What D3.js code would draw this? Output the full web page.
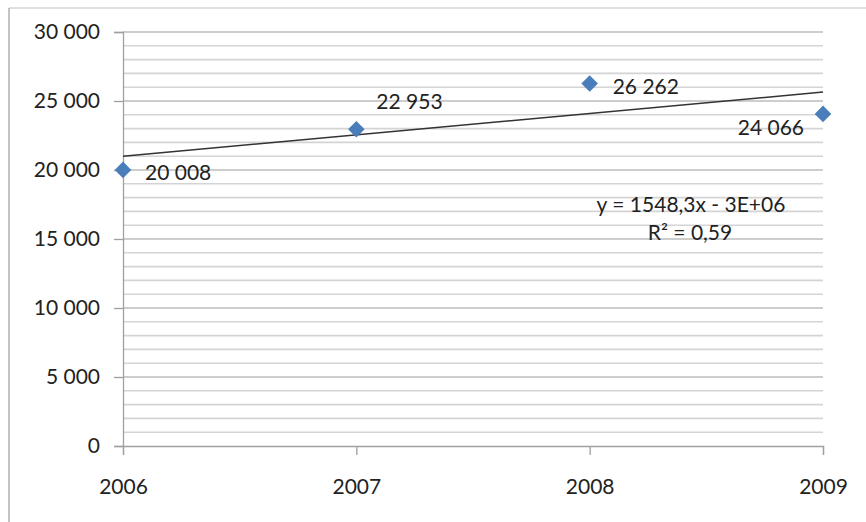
<!DOCTYPE html>
<html>
<head>
<meta charset="utf-8">
<style>
  body { margin: 0; background: #fff; }
  text { font-family: Lato, "Open Sans", sans-serif; fill: #222; }
</style>
</head>
<body>
<script src="https://cdn.jsdelivr.net/npm/d3@7"></script>
<script>
// data
var years = [2006, 2007, 2008, 2009];
var values = [20008, 22953, 26262, 24066];
var yTicks = [0, 5000, 10000, 15000, 20000, 25000, 30000];
var equationText = "y = 1548,3x - 3E+06";
var r2Text = "R² = 0,59";
// label offsets relative to each point [dx, dy, anchor]
var labelPos = [[22, 10, "start"], [20, -20, "start"], [23, 10, "start"], [-19, 21, "end"]];

var width = 866, height = 522;
var svg = d3.select("body").append("svg")
  .attr("width", width)
  .attr("height", height);

// chart area border (only top/left visible in the reference)
svg.append("line").attr("x1", 9).attr("y1", 8).attr("x2", width).attr("y2", 8)
  .attr("stroke", "#d6d6d6").attr("stroke-width", 1.5);
svg.append("line").attr("x1", 9).attr("y1", 8).attr("x2", 9).attr("y2", height)
  .attr("stroke", "#b0b0b0").attr("stroke-width", 1.5);

var x = d3.scaleLinear().domain([2006, 2009]).range([123, 823]);
var y = d3.scaleLinear().domain([0, 30000]).range([446, 32]);

function fmt(d) { return d3.format(",")(d).replace(/,/g, "\u00a0"); }

// gridlines every 1000, slightly darker every 5000
var grid = d3.range(1000, 30001, 1000);
svg.append("g").selectAll("line").data(grid).enter().append("line")
  .attr("x1", x(2006)).attr("x2", x(2009))
  .attr("y1", function(d) { return y(d); }).attr("y2", function(d) { return y(d); })
  .attr("stroke", function(d) { return d % 5000 === 0 ? "#bcbcbc" : "#d4d4d4"; })
  .attr("stroke-width", 1.6);

// y axis
var yAxis = svg.append("g").attr("transform", "translate(" + x(2006) + ",0)")
  .call(d3.axisLeft(y).tickValues(yTicks).tickSize(9).tickPadding(14).tickFormat(fmt));
yAxis.select(".domain").attr("stroke", "#a0a0a0").attr("stroke-width", 1.3);
yAxis.selectAll(".tick line").attr("stroke", "#a0a0a0").attr("stroke-width", 1.3);
yAxis.selectAll("text").style("font-family", "Lato, sans-serif").style("font-size", "21px").attr("fill", "#222");

// x axis
var xAxis = svg.append("g").attr("transform", "translate(0," + y(0) + ")")
  .call(d3.axisBottom(x).tickValues(years).tickSize(9).tickPadding(24).tickFormat(d3.format("d")));
xAxis.select(".domain").attr("stroke", "#a0a0a0").attr("stroke-width", 1.3);
xAxis.selectAll(".tick line").attr("stroke", "#a0a0a0").attr("stroke-width", 1.3);
xAxis.selectAll("text").style("font-family", "Lato, sans-serif").style("font-size", "21px").attr("fill", "#222");

// linear trendline (least squares)
var mx = d3.mean(years), my = d3.mean(values);
var sxy = d3.sum(years, function(d, i) { return (d - mx) * (values[i] - my); });
var sxx = d3.sum(years, function(d) { return (d - mx) * (d - mx); });
var slope = sxy / sxx, icpt = my - slope * mx;
svg.append("line")
  .attr("x1", x(2006)).attr("y1", y(slope * 2006 + icpt))
  .attr("x2", x(2009)).attr("y2", y(slope * 2009 + icpt))
  .attr("stroke", "#333").attr("stroke-width", 1.5);

// diamond markers
svg.append("g").selectAll("path").data(values).enter().append("path")
  .attr("d", d3.symbol().type(d3.symbolDiamond2).size(175))
  .attr("transform", function(d, i) { return "translate(" + x(years[i]) + "," + y(d) + ")"; })
  .attr("fill", "#4a7ebb");

// data labels
svg.append("g").selectAll("text").data(values).enter().append("text")
  .attr("x", function(d, i) { return x(years[i]) + labelPos[i][0]; })
  .attr("y", function(d, i) { return y(d) + labelPos[i][1]; })
  .attr("text-anchor", function(d, i) { return labelPos[i][2]; })
  .style("font-size", "21px")
  .text(fmt);

// trendline equation
svg.append("text").attr("x", 691).attr("y", 212).attr("text-anchor", "middle")
  .style("font-size", "21px").text(equationText);
svg.append("text").attr("x", 690).attr("y", 240).attr("text-anchor", "middle")
  .style("font-size", "21px").text(r2Text);
</script>
</body>
</html>
